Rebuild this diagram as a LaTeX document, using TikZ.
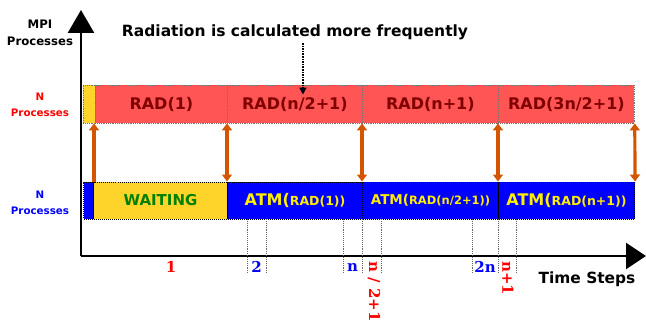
\documentclass[tikz,border=0pt]{standalone}
\usepackage{fontspec}
\setmainfont{DejaVu Sans}
\newfontfamily\numfont{DejaVu Serif}
\usepackage{tikz}
\usetikzlibrary{positioning,arrows.meta}
\definecolor{radfill}{HTML}{FF5555}
\definecolor{radtext}{HTML}{800000}
\definecolor{waitfill}{HTML}{FFD42A}
\definecolor{waittext}{HTML}{008000}
\definecolor{atmfill}{HTML}{0000FF}
\definecolor{atmtext}{HTML}{FFEE00}
\definecolor{sync}{HTML}{D45500}
\definecolor{hint}{HTML}{000080}

\begin{document}
\begin{tikzpicture}[
  x=1pt, y=-1pt,
  font=\bfseries,
  radbox/.style={draw=black!55, densely dotted, line width=0.8pt, fill=radfill, text=radtext,
                 minimum height=38, anchor=west, inner sep=0pt,
                 font=\bfseries\fontsize{16}{18}\selectfont},
  atmbox/.style={draw=black, densely dotted, line width=1pt, fill=atmfill, text=atmtext,
                 minimum height=37, anchor=west, inner sep=0pt},
  waitbox/.style={atmbox, fill=waitfill, text=waittext,
                  font=\bfseries\fontsize{15}{18}\selectfont},
  side/.style={align=center, font=\bfseries\fontsize{10.3}{16}\selectfont},
  steplbl/.style={font=\numfont\bfseries\fontsize{15}{18}\selectfont, inner sep=1pt},
  syncarrow/.style={{Triangle[length=7pt,width=10pt]}-{Triangle[length=7pt,width=10pt]},
                    draw=sync, line width=3.2pt},
  axis/.style={-{Triangle[length=20pt,width=26pt]}, line width=2.6pt},
  tick/.style={draw=black!60, densely dotted, line width=0.9pt},
]
\useasboundingbox (0,0) rectangle (646,321);

% Axes
\coordinate (origin) at (81,256);
\draw[axis] (origin) -- (646,256);
\draw[axis, -{Triangle[length=23pt,width=26pt]}] (origin) -- (81,10);
\node[align=center, font=\bfseries\fontsize{11.7}{17}\selectfont] (mpi) at (40,33) {MPI\\Processes};
\node[font=\bfseries\fontsize{15.4}{18}\selectfont] (time) at (587,279) {Time Steps};

% Radiation processes
\node[radbox, fill=waitfill, minimum width=12] (radpre) at (83,104) {};
\node[radbox, minimum width=132] (rad1) at (95,104) {RAD(1)};
\node[radbox, minimum width=135] (rad2) at (227,104) {RAD(n/2+1)};
\node[radbox, minimum width=136] (rad3) at (362,104) {RAD(n+1)};
\node[radbox, minimum width=136] (rad4) at (498,104) {RAD(3n/2+1)};
\node[side, text=red] (nrad) at (40,105) {N\\Processes};

% Atmosphere processes
\node[atmbox, minimum width=10] (atmpre) at (83,200.5) {};
\node[waitbox, minimum width=134] (wait) at (93,200.5) {WAITING};
\node[atmbox, minimum width=135] (atm1) at (227,200.5)
  {{\fontsize{16}{18}\selectfont ATM(}{\fontsize{12.5}{18}\selectfont RAD(1))}};
\node[atmbox, minimum width=136] (atm2) at (362,200.5)
  {{\fontsize{13.5}{18}\selectfont ATM(}{\fontsize{11.5}{18}\selectfont RAD(n/2+1))}};
\node[atmbox, minimum width=136] (atm3) at (498,200.5)
  {{\fontsize{16}{18}\selectfont ATM(}{\fontsize{12.5}{18}\selectfont RAD(n+1))}};
\node[side, text=atmfill] (natm) at (40,203) {N\\Processes};

% Exchanges between the two groups
\draw[syncarrow, arrows={-Triangle[length=7pt,width=10pt]}]
  ([xshift=1]wait.north west) -- ([xshift=1]wait.north west |- rad1.south);
\draw[syncarrow] (atm1.north west) -- (rad2.south west);
\draw[syncarrow] (atm2.north west) -- (rad3.south west);
\draw[syncarrow] (atm3.north west) -- (rad4.south west);
\draw[syncarrow] (atm3.north east) -- (rad4.south east);

% Note on top
\node[font=\bfseries\fontsize{15.5}{18}\selectfont] (note) at (295,32) {Radiation is calculated more frequently};
\coordinate (hit) at ([xshift=8,yshift=-10]rad2.north);
\draw[densely dotted, line width=1.6pt, -{Triangle[length=7pt,width=7pt,fill=hint]}]
  (note.south -| hit) -- (hit);

% Time step markers
\foreach \t in {247,266,343,362,381,472,498,516} {
  \draw[tick] (\t,219) -- (\t,273);
}
\node[steplbl, text=red] (s1) at (171,267) {1};
\node[steplbl, text=atmfill] (s2) at (256.5,267) {2};
\node[steplbl, text=atmfill] (sn) at (352.5,267) {n};
\node[steplbl, text=red, rotate=-90, anchor=west] (shalf) at (374,260) {n / 2+1};
\node[steplbl, text=atmfill] (s2n) at (485,267) {2n};
\node[steplbl, text=red, rotate=-90, anchor=west] (snext) at (508,260) {n+1};
\end{tikzpicture}
\end{document}
